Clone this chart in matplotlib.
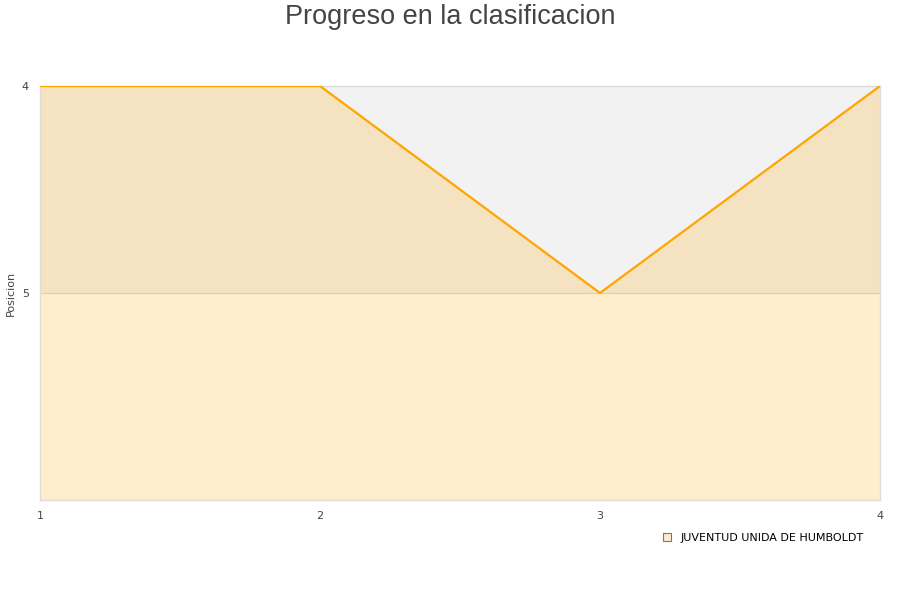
import matplotlib
matplotlib.use("Agg")
import matplotlib.pyplot as plt
from matplotlib.patches import Patch

# datos
jornadas = [1, 2, 3, 4]
posiciones = [4, 4, 5, 4]
equipo = "JUVENTUD UNIDA DE HUMBOLDT"
y_ticks = [4, 5]

fig = plt.figure(figsize=(9, 6), dpi=100)
ax = fig.add_axes([40 / 900, 1 - 500 / 600, 840 / 900, 414 / 600])

ax.set_xlim(1, 4)
ax.set_ylim(6, 4)

# bandas de fondo
ax.axhspan(4, 5, color="#f2f2f2", zorder=0, lw=0)
ax.axhspan(5, 6, color="white", zorder=0, lw=0)
ax.axhline(5, color="#e6d7bd", lw=0.8, zorder=1)

ax.fill_between(jornadas, posiciones, 6, color="#ffa500", alpha=0.2, lw=0, zorder=2)
ax.plot(jornadas, posiciones, color="#ffa500", lw=1.6, zorder=3)

ax.set_xticks(jornadas)
ax.set_yticks(y_ticks)
ax.tick_params(length=0, labelsize=8, colors="#444444", pad=8)
for s in ax.spines.values():
    s.set_color("#dcdcdc")
    s.set_linewidth(1)

fig.text(11 / 900, 1 - 293 / 600, "Posicion", rotation=90, fontsize=8,
         color="#444444", ha="center", va="center")

fig.text(0.5, 1 - 17 / 600, "Progreso en la clasificacion", fontsize=19.5,
         color="#444444", family="Liberation Sans", ha="center", va="center")

handle = Patch(facecolor="#feebcb", edgecolor="#777777", lw=0.8)
fig.legend([handle], [equipo], loc="center", bbox_to_anchor=(763 / 900, 1 - 538 / 600),
           frameon=False, fontsize=8, handlelength=0.8, handleheight=0.8,
           handletextpad=0.8)

fig.savefig("out.png", dpi=100)
